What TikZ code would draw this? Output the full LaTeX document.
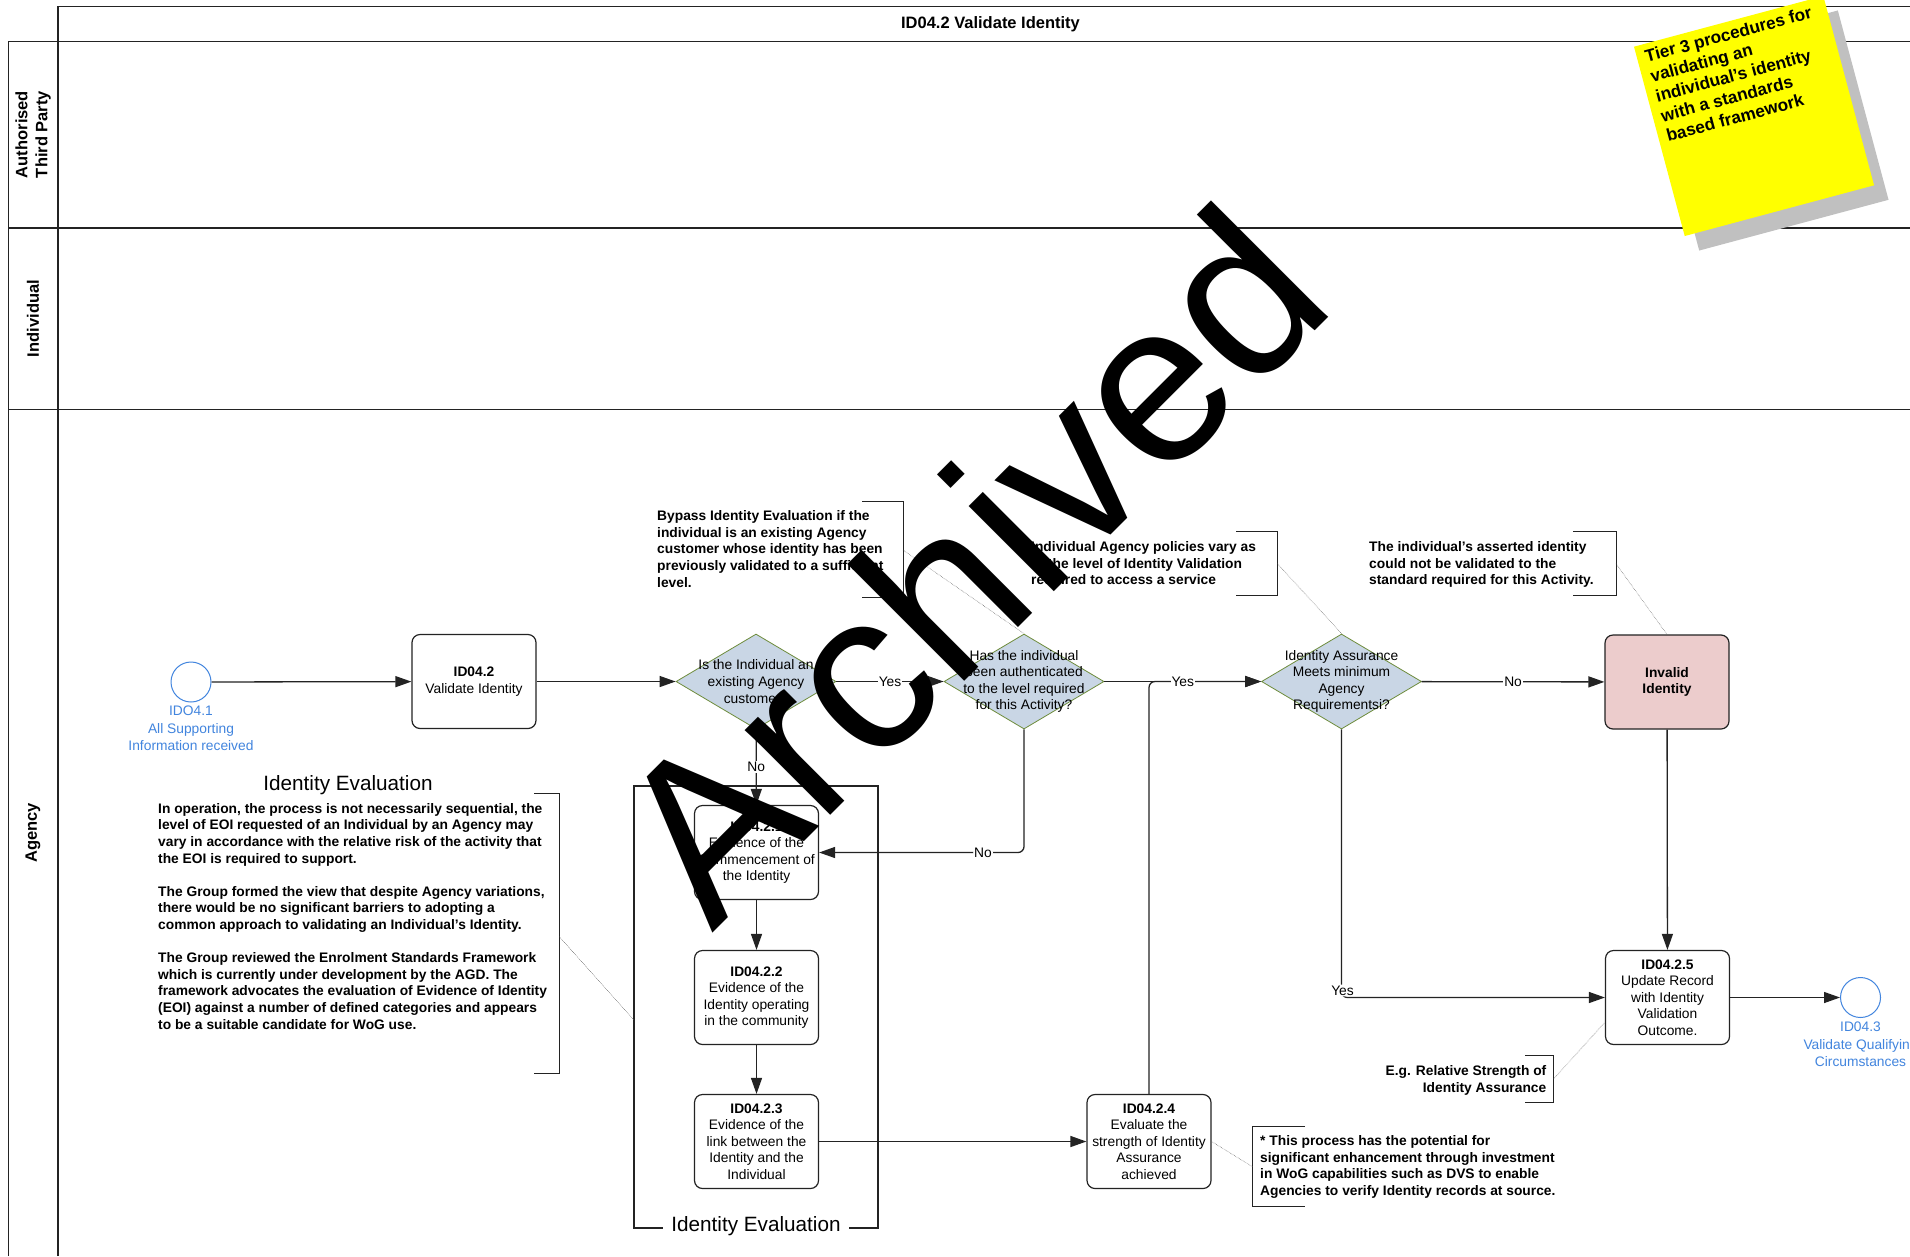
\documentclass[tikz,border=0pt]{standalone}
\usepackage{fontspec}
\setmainfont{Liberation Sans}
\usetikzlibrary{arrows.meta,shapes.geometric,calc}

\definecolor{lineC}{RGB}{35,35,35}
\definecolor{diaFill}{RGB}{201,214,229}
\definecolor{diaDraw}{RGB}{110,140,60}
\definecolor{invFill}{RGB}{236,204,204}
\definecolor{evBlue}{RGB}{66,133,222}
\definecolor{shadowC}{RGB}{192,192,192}
\definecolor{noteY}{RGB}{255,255,0}

\newcommand{\fs}{\fontsize{13.8}{16.6}\selectfont}
\newcommand{\evfs}{\fontsize{13.8}{17.5}\selectfont}
\newcommand{\bigfs}{\fontsize{20.7}{24}\selectfont}

\begin{document}
\begin{tikzpicture}[x=1pt,y=-1pt,
  task/.style={draw=lineC, line width=1.2pt, rounded corners=8pt, minimum width=124pt, minimum height=94pt, inner sep=1pt, align=center, font=\fs, fill=white},
  gate/.style={diamond, draw=diaDraw, line width=0.8pt, fill=diaFill, minimum width=160pt, minimum height=95pt, inner sep=0pt},
  gatetext/.style={align=center, font=\fs, inner sep=0pt},
  event/.style={circle, draw=evBlue, line width=1pt, minimum size=40pt, inner sep=0pt, fill=white},
  evlabel/.style={text=evBlue, align=center, font=\evfs, inner sep=0pt},
  flow/.style={draw=lineC, line width=1.3pt, -{Triangle[length=16pt,width=11pt]}},
  flowlabel/.style={fill=white, inner sep=1pt, font=\fs},
  annot/.style={font=\bfseries\fs, align=left, inner sep=0pt},
  bracket/.style={draw=lineC, line width=1pt},
  assoc/.style={draw=black!65, line width=0.5pt, densely dotted},
  lane/.style={draw=lineC, line width=1.2pt},
  lanelabel/.style={rotate=90, font=\bfseries\fontsize{16.5}{20}\selectfont, align=center, inner sep=0pt},
]
\useasboundingbox (0,0) rectangle (1910,1256);
\clip (0,0) rectangle (1910,1256);
\fill[white] (0,0) rectangle (1910,1256);

% ---- pool and lanes
\draw[lane] (58,1256) -- (58,6.7) -- (1910,6.7);
\draw[lane] (8.6,1256) -- (8.6,41.7) -- (1910,41.7);
\draw[lane] (8.6,228) -- (1910,228);
\draw[lane] (8.6,409.5) -- (1910,409.5);
\node[font=\bfseries\fontsize{16.5}{19}\selectfont, inner sep=0pt] (title) at (990.5,24) {ID04.2 Validate Identity};
\node[lanelabel] (laneA) at (33,134.5) {Authorised\\Third Party};
\node[lanelabel] (laneB) at (33,318.5) {Individual};
\node[lanelabel] (laneC) at (33,833) {Agency};

% ---- group box
\draw[lane] (634,786) rectangle (878,1228);
\node[fill=white, inner xsep=8pt, inner ysep=1pt, font=\bigfs] (grplabel) at (756,1226) {Identity Evaluation};
\coordinate (grpleft) at (634,1020);

% ---- nodes
\node[event] (start) at (191,682) {};
\node[evlabel, anchor=north] (startlbl) at (191,706) {IDO4.1\\All Supporting\\Information received};
\node[task] (t1) at (474,681.5) {\textbf{ID04.2}\\Validate Identity};
\node[gate] (d1) at (756,681.5) {};
\node[gatetext] (d1t) at (d1) {Is the Individual an\\existing Agency\\customer?};
\node[gate] (d2) at (1024,681.5) {};
\node[gatetext] (d2t) at (d2) {Has the individual\\been authenticated\\to the level required\\for this Activity?};
\node[gate] (d3) at (1341.5,681.5) {};
\node[gatetext] (d3t) at (d3) {Identity Assurance\\Meets minimum\\Agency\\Requirementsi?};
\node[task, fill=invFill, font=\bfseries\fs] (inv) at (1667,682) {Invalid\\Identity};
\node[task] (e1) at (756.5,852.5) {\textbf{ID04.2.1}\\Evidence of the\\Commencement of\\the Identity};
\node[task] (e2) at (756.5,997.5) {\textbf{ID04.2.2}\\Evidence of the\\Identity operating\\in the community};
\node[task] (e3) at (756.5,1141.5) {\textbf{ID04.2.3}\\Evidence of the\\link between the\\Identity and the\\Individual};
\node[task] (e4) at (1149,1141.5) {\textbf{ID04.2.4}\\Evaluate the\\strength of Identity\\Assurance\\achieved};
\node[task] (e5) at (1667.5,997.5) {\textbf{ID04.2.5}\\Update Record\\with Identity\\Validation\\Outcome.};
\node[event] (end) at (1860.5,997.5) {};
\node[evlabel, anchor=north] (endlbl) at (1860.5,1022) {ID04.3\\Validate Qualifying\\Circumstances};

% ---- flows
\draw[flow] (start) -- (t1);
\draw[flow] (t1) -- (d1);
\draw[flow] (d1) -- node[flowlabel]{Yes} (d2);
\draw[flow] (d1) -- node[flowlabel]{No} (e1);
\draw[flow, rounded corners=6pt] (d2.south) |- node[flowlabel, pos=0.6]{No} (e1.east);
\draw[flow, rounded corners=6pt] (e4.north) |- (d3.west);
\draw[flow] (d2) -- node[flowlabel]{Yes} (d3);
\draw[flow] (d3) -- node[flowlabel]{No} (inv);
\draw[flow, rounded corners=6pt] (d3.south) |- node[flowlabel, pos=0.5, yshift=7pt, xshift=1pt]{Yes} (e5.west);
\draw[flow] (inv) -- (e5);
\draw[flow] (e5) -- (end);
\draw[flow] (e1) -- (e2);
\draw[flow] (e2) -- (e3);
\draw[flow] (e3) -- (e4);

% ---- annotations
\node[annot, anchor=north west] (a1) at (657,510.5) {Bypass Identity Evaluation if the\\individual is an existing Agency\\customer whose identity has been\\previously validated to a sufficient\\level.};
\draw[bracket] (862,501.7) -- (903,501.7) -- (903,597.7) -- (862,597.7);
\coordinate (a1c) at (903,550);
\draw[assoc] (a1c) -- (d2.north);

\node[annot, anchor=north west] (a2) at (1031,541.5) {Individual Agency policies vary as\\to the level of Identity Validation\\required to access a service};
\draw[bracket] (1236,531.7) -- (1277.5,531.7) -- (1277.5,595.7) -- (1236,595.7);
\coordinate (a2c) at (1277.5,563.7);
\draw[assoc] (a2c) -- (d3.north);

\node[annot, anchor=north west] (a3) at (1369,541.5) {The individual’s asserted identity\\could not be validated to the\\standard required for this Activity.};
\draw[bracket] (1573,531.7) -- (1616,531.7) -- (1616,595.7) -- (1573,595.7);
\coordinate (a3c) at (1616,563.7);
\draw[assoc] (a3c) -- (inv.north);

\node[annot, align=right, anchor=north east] (a4) at (1546.5,1065.5) {E.g. Relative Strength of\\Identity Assurance};
\draw[bracket] (1525,1055.7) -- (1553.6,1055.7) -- (1553.6,1102.7) -- (1525,1102.7);
\coordinate (a4c) at (1553.6,1079);
\draw[assoc] (a4c) -- ($(e5.south west)!0.24!(e5.north west)$);

\node[annot, anchor=north west] (a5) at (1260,1135.5) {* This process has the potential for\\significant enhancement through investment\\in WoG capabilities such as DVS to enable\\Agencies to verify Identity records at source.};
\draw[bracket] (1305,1126.7) -- (1252.4,1126.7) -- (1252.4,1206) -- (1305,1206);
\coordinate (a5c) at (1252.4,1166.7);
\draw[assoc] (a5c) -- (e4.east);

\node[font=\bigfs, inner sep=0pt] (a6h) at (348,785) {Identity Evaluation};
\node[annot, anchor=north west] (a6) at (158,803) {In operation, the process is not necessarily sequential, the\\level of EOI requested of an Individual by an Agency may\\vary in accordance with the relative risk of the activity that\\the EOI is required to support.\\[16.6pt]The Group formed the view that despite Agency variations,\\there would be no significant barriers to adopting a\\common approach to validating an Individual’s Identity.\\[16.6pt]The Group reviewed the Enrolment Standards Framework\\which is currently under development by the AGD. The\\framework advocates the evaluation of Evidence of Identity\\(EOI) against a number of defined categories and appears\\to be a suitable candidate for WoG use.};
\draw[bracket] (534,793.3) -- (559.3,793.3) -- (559.3,1073.3) -- (534,1073.3);
\coordinate (a6c) at (559.3,936.7);
\draw[assoc] (a6c) -- (grpleft);

% ---- sticky note
\node[rotate=15, minimum size=196pt, inner sep=0pt, fill=shadowC] (noteshadow) at (1768.5,130.5) {};
\node[rotate=15, minimum size=196pt, inner sep=0pt, fill=noteY] (note) at (1754,116) {};
\node[rotate=15, anchor=north west, inner xsep=8.5pt, inner ysep=6pt, align=left, font=\bfseries\fontsize{17.2}{20.6}\selectfont] (notetext) at (note.north west) {Tier 3 procedures for\\validating an\\individual’s identity\\with a standards\\based framework};

% ---- watermark
\node[rotate=45, anchor=base west, inner sep=0pt, font=\fontsize{228}{228}\selectfont] (wm) at (712,934) {Archived};
\end{tikzpicture}
\end{document}
